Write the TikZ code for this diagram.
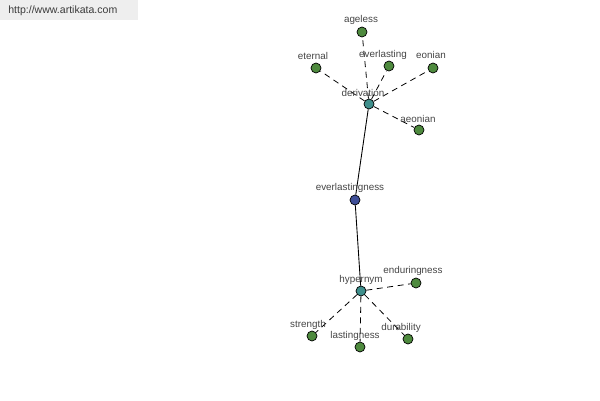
\documentclass[tikz,border=0pt]{standalone}
\usepackage{fontspec}
\setmainfont{Liberation Sans}
\definecolor{leaf}{HTML}{4E8A3E}
\definecolor{rel}{HTML}{3F8F8C}
\definecolor{core}{HTML}{3F4F98}
\definecolor{hdr}{HTML}{EEEEEE}
\definecolor{hdrtxt}{HTML}{3A3A3A}
\definecolor{labtxt}{HTML}{444444}
\begin{document}
\begin{tikzpicture}[x=0.02cm,y=-0.02cm,
  dot/.style={circle,draw=black,line width=0.4pt,minimum size=0.2cm,inner sep=0pt},
  leafdot/.style={dot,fill=leaf},
  reldot/.style={dot,fill=rel},
  coredot/.style={dot,fill=core},
  lab/.style={font=\fontsize{5.6}{6}\selectfont,text=labtxt,inner sep=0pt},
  dashline/.style={draw=black,line width=0.45pt,dash pattern=on 3.4pt off 2.6pt},
  solidline/.style={draw=black,line width=0.5pt}]
\useasboundingbox (0,0) rectangle (600,400);
\fill[hdr] (0,0) rectangle (138,20);
\node[font=\fontsize{6}{7}\selectfont,text=hdrtxt,anchor=west,inner sep=0pt] (url) at (8,11) {http://www.artikata.com};
% nodes
\node[reldot] (der) at (369,104) {};
\node[leafdot] (ageless) at (362,32) {};
\node[leafdot] (eternal) at (316,68) {};
\node[leafdot] (everlasting) at (389,66) {};
\node[leafdot] (eonian) at (433,68) {};
\node[leafdot] (aeonian) at (419,130) {};
\node[coredot] (ness) at (355,200) {};
\node[reldot] (hyp) at (361,291) {};
\node[leafdot] (enduring) at (416,283) {};
\node[leafdot] (strength) at (312,336) {};
\node[leafdot] (lasting) at (360,347) {};
\node[leafdot] (durab) at (408,339) {};
% connectors
\path[dashline] (der) -- (ageless);
\path[dashline] (der) -- (eternal);
\path[dashline] (der) -- (everlasting);
\path[dashline] (der) -- (eonian);
\path[dashline] (der) -- (aeonian);
\path[solidline] (der) -- (ness);
\path[solidline] (ness) -- (hyp);
\path[dashline] (hyp) -- (enduring);
\path[dashline] (hyp) -- (strength);
\path[dashline] (hyp) -- (lasting);
\path[dashline] (hyp) -- (durab);
% labels
\node[lab] (lder) at (363,93) {derivation};
\node[lab] (lageless) at (361,20) {ageless};
\node[lab] (leternal) at (313,56) {eternal};
\node[lab] (leverlasting) at (383,55) {everlasting};
\node[lab] (leonian) at (431,55) {eonian};
\node[lab] (laeonian) at (418,119) {aeonian};
\node[lab] (lness) at (350,188) {everlastingness};
\node[lab] (lhyp) at (361,280) {hypernym};
\node[lab] (lenduring) at (413,271) {enduringness};
\node[lab] (lstrength) at (308,325) {strength};
\node[lab] (llasting) at (355,336) {lastingness};
\node[lab] (ldurab) at (401,328) {durability};
\end{tikzpicture}
\end{document}
